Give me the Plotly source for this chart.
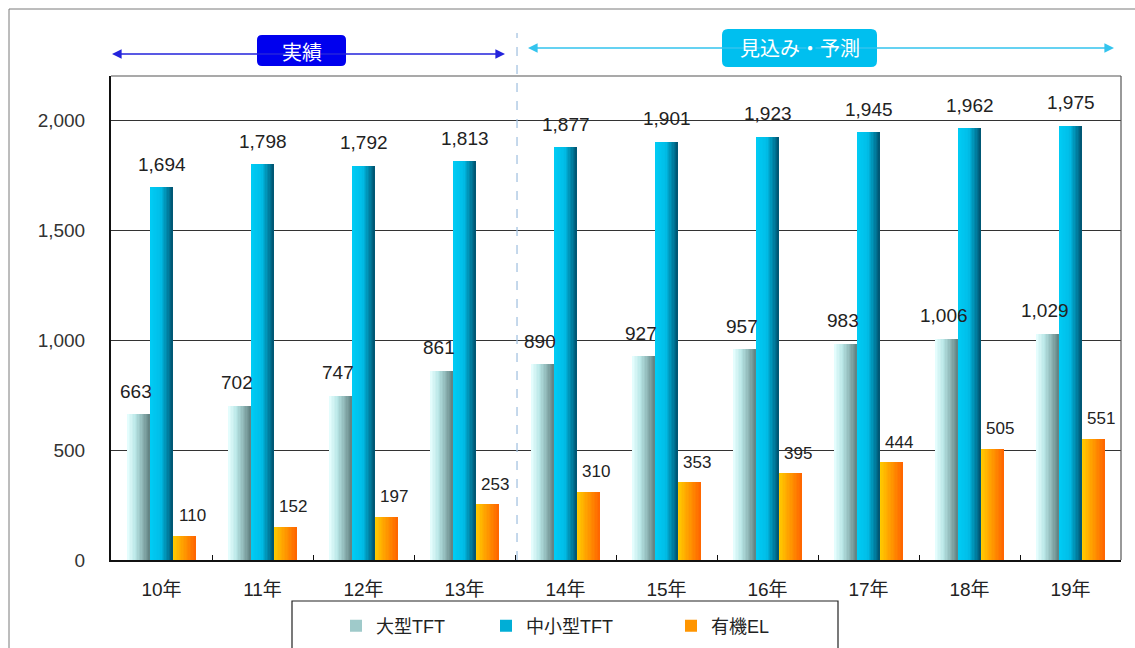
import plotly.graph_objects as go

# ---- data -------------------------------------------------------------
years = ["10年", "11年", "12年", "13年", "14年", "15年", "16年", "17年", "18年", "19年"]
large_tft = [663, 702, 747, 861, 890, 927, 957, 983, 1006, 1029]
small_mid_tft = [1694, 1798, 1792, 1813, 1877, 1901, 1923, 1945, 1962, 1975]
oled = [110, 152, 197, 253, 310, 353, 395, 444, 505, 551]
series_names = ["大型TFT", "中小型TFT", "有機EL"]
y_ticks = [0, 500, 1000, 1500, 2000]

# ---- geometry ---------------------------------------------------------
W, H = 1135, 648
M_L, M_R, M_T, M_B = 111, 14, 76, 88
PW, PH = W - M_L - M_R, H - M_T - M_B


def px_x(px):
    return (px - M_L) / PW


def px_y(py):
    return (H - M_B - py) / PH


FONT = "Liberation Sans, Arial, Noto Sans CJK JP, sans-serif"
TXT = "#222222"

BAR_W = 0.2245
offsets = [-1.5 * BAR_W, -0.5 * BAR_W, 0.5 * BAR_W]
gradients = [
    [(0.0, (232, 255, 255)), (0.35, (184, 230, 230)), (1.0, (96, 128, 128))],
    [(0.0, (0, 204, 245)), (0.45, (0, 190, 232)), (1.0, (0, 82, 110))],
    [(0.0, (255, 205, 0)), (1.0, (255, 100, 0))],
]
label_dx = [-3, 0, 8]
label_dy = [23, 23, 20]
label_size = [19, 19, 17]


def grad_color(stops, t):
    for (t0, c0), (t1, c1) in zip(stops[:-1], stops[1:]):
        if t <= t1:
            f = (t - t0) / (t1 - t0) if t1 > t0 else 0
            c = [round(a + (b - a) * f) for a, b in zip(c0, c1)]
            return "rgb({},{},{})".format(*c)
    c = stops[-1][1]
    return "rgb({},{},{})".format(*c)


fig = go.Figure()
xs = list(range(len(years)))
all_series = [large_tft, small_mid_tft, oled]
K = 16

for s, vals in enumerate(all_series):
    for k in range(K):
        t = (k + 0.5) / K
        start = offsets[s] + k * BAR_W / K
        fig.add_trace(go.Bar(
            x=xs, y=vals,
            offset=start, width=offsets[s] + BAR_W - start,
            marker=dict(color=grad_color(gradients[s], t), line=dict(width=0)),
            name=series_names[s],
            showlegend=(k == K // 2),
            legend=["legend", "legend2", "legend3"][s],
            hoverinfo="skip",
        ))

# value labels above each bar
annotations = []
for s, vals in enumerate(all_series):
    for i, v in enumerate(vals):
        annotations.append(dict(
            x=i + offsets[s] + BAR_W / 2, y=v, xref="x", yref="y",
            text=f"{v:,}", showarrow=False, xanchor="center", yanchor="middle",
            xshift=label_dx[s], yshift=label_dy[s],
            font=dict(family=FONT, size=label_size[s], color=TXT),
        ))

# period arrows (実績 / 見込み・予測)
def arrow(x_head_px, y_px, tail_dx, color):
    return dict(x=px_x(x_head_px), y=px_y(y_px), xref="paper", yref="paper",
                ax=tail_dx, ay=0, axref="pixel", ayref="pixel",
                text="", showarrow=True, arrowhead=2, arrowsize=1.2,
                arrowwidth=1.6, arrowcolor=color)

BLUE = "#2323dc"
CYAN = "#33c4ee"
annotations += [
    arrow(112, 54, 190, BLUE),
    arrow(505, 54, -200, BLUE),
    arrow(528, 48, 280, CYAN),
    arrow(1114, 48, -300, CYAN),
]


def rounded_box(x0, y0, x1, y1, r, color):
    X0, X1 = px_x(x0), px_x(x1)
    Y0, Y1 = px_y(y0), px_y(y1)
    rx, ry = r / PW, r / PH
    path = (f"M {X0 + rx},{Y0} L {X1 - rx},{Y0} Q {X1},{Y0} {X1},{Y0 - ry} "
            f"L {X1},{Y1 + ry} Q {X1},{Y1} {X1 - rx},{Y1} L {X0 + rx},{Y1} "
            f"Q {X0},{Y1} {X0},{Y1 + ry} L {X0},{Y0 - ry} Q {X0},{Y0} {X0 + rx},{Y0} Z")
    return dict(type="path", path=path, xref="paper", yref="paper",
                fillcolor=color, line=dict(width=0), layer="above")


shapes = [
    # outer frame
    dict(type="rect", xref="paper", yref="paper", x0=px_x(9), y0=px_y(700),
         x1=px_x(1200), y1=px_y(9), line=dict(color="#7a7a7a", width=1),
         layer="below"),
    # top and right frame of the plot area
    dict(type="line", xref="paper", yref="paper", x0=0, x1=1, y0=1, y1=1,
         line=dict(color="#555555", width=1.2)),
    dict(type="line", xref="paper", yref="paper", x0=1, x1=1, y0=0, y1=1,
         line=dict(color="#555555", width=1.2)),
    # divider between actual and forecast
    dict(type="line", xref="x", yref="paper", x0=3.52, x1=3.52, y0=0, y1=px_y(33),
         line=dict(color="#a6c4e2", width=1.3, dash="dash")),
    # legend frame
    dict(type="rect", xref="paper", yref="paper", x0=px_x(292), x1=px_x(838),
         y0=px_y(660), y1=px_y(601), line=dict(color="#222222", width=1.2),
         fillcolor="white"),
    rounded_box(257, 35, 346, 66, 5, "#0000ee"),
    rounded_box(722, 29, 877, 67, 6, "#00bfef"),
]

annotations += [
    dict(x=px_x(301.5), y=px_y(51), xref="paper", yref="paper", text="実績",
         xanchor="center", yanchor="middle", showarrow=False,
         font=dict(family="Noto Sans CJK JP", size=20, color="white")),
    dict(x=px_x(799.5), y=px_y(48), xref="paper", yref="paper", text="見込み・予測",
         xanchor="center", yanchor="middle", showarrow=False,
         font=dict(family="Noto Sans CJK JP", size=20, color="white")),
]

# legends are placed in container coordinates so they do not push the margins
legend_common = dict(orientation="h", bgcolor="rgba(0,0,0,0)", borderwidth=0,
                     xref="container", yref="container",
                     yanchor="middle", y=(H - 626) / H, xanchor="left",
                     font=dict(family=FONT, size=18, color=TXT), itemwidth=30)

fig.update_layout(
    width=W, height=H,
    margin=dict(l=M_L, r=M_R, t=M_T, b=M_B, pad=0, autoexpand=False),
    paper_bgcolor="white", plot_bgcolor="white",
    barmode="overlay", bargap=0,
    font=dict(family=FONT, color=TXT),
    shapes=shapes, annotations=annotations,
    legend=dict(legend_common, x=336 / W),
    legend2=dict(legend_common, x=486 / W),
    legend3=dict(legend_common, x=671 / W),
    xaxis=dict(range=[-0.5, 9.5], tickvals=xs, ticktext=years, ticks="",
               showgrid=False, zeroline=False, showline=True, linecolor="#111111",
               linewidth=2, ticklabelstandoff=11, automargin=False,
               tickfont=dict(family=FONT, size=19, color=TXT)),
    xaxis2=dict(range=[-0.5, 9.5], overlaying="x", anchor="y", side="bottom",
                tickvals=[i + 0.5 for i in xs[:-1]], ticks="inside", ticklen=5,
                tickwidth=1.2, tickcolor="#111111", showticklabels=False,
                showgrid=False, zeroline=False, showline=False, automargin=False),
    yaxis=dict(range=[0, 2200], tickvals=y_ticks, tickformat=",d", ticks="",
               showgrid=True, gridcolor="#333333", gridwidth=1, zeroline=False,
               showline=True, linecolor="#111111", linewidth=2,
               ticklabelstandoff=20, automargin=False,
               tickfont=dict(family=FONT, size=19, color="#333333")),
)

# invisible point so the boundary tick axis is drawn
fig.add_trace(go.Scatter(x=[0], y=[0], xaxis="x2", mode="markers",
                         marker=dict(opacity=0), showlegend=False, hoverinfo="skip"))

fig.write_html("out.html")
